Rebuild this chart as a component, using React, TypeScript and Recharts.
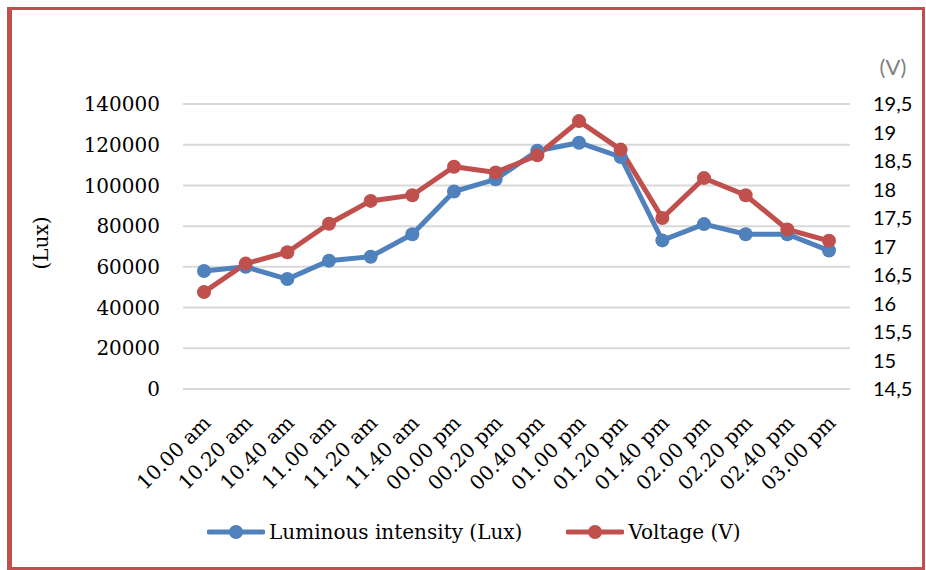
import React from 'react'
import { CartesianGrid, Line, LineChart, XAxis, YAxis } from 'recharts'

const times = [
  '10.00 am', '10.20 am', '10.40 am', '11.00 am', '11.20 am', '11.40 am',
  '00.00 pm', '00.20 pm', '00.40 pm', '01.00 pm', '01.20 pm', '01.40 pm',
  '02.00 pm', '02.20 pm', '02.40 pm', '03.00 pm',
]
const luxValues = [
  58000, 60000, 54000, 63000, 65000, 76000, 97000, 103000,
  117000, 121000, 114000, 73000, 81000, 76000, 76000, 68000,
]
const voltValues = [
  16.2, 16.7, 16.9, 17.4, 17.8, 17.9, 18.4, 18.3,
  18.6, 19.2, 18.7, 17.5, 18.2, 17.9, 17.3, 17.1,
]
const luxTicks = [0, 20000, 40000, 60000, 80000, 100000, 120000, 140000]
const voltTicks = [14.5, 15, 15.5, 16, 16.5, 17, 17.5, 18, 18.5, 19, 19.5]

const BLUE = '#4f81bd'
const RED = '#c0504d'
const SERIF = '"DejaVu Serif", serif'
const SANS = 'Lato, sans-serif'

const data = times.map((t, i) => ({ time: t, lux: luxValues[i], volt: voltValues[i] }))

const TimeTick = (props: any) => {
  const { x, y, payload } = props
  return (
    <g transform={`translate(${x + 8},${y + 27})`}>
      <text
        x={0}
        y={0}
        textAnchor="end"
        transform="rotate(-45)"
        fill="#000"
        fontSize={20}
        fontFamily={SERIF}
      >
        {payload.value}
      </text>
    </g>
  )
}

const LegendItem = ({ color, label }: { color: string; label: string }) => (
  <div style={{ display: 'flex', alignItems: 'center' }}>
    <svg width={58} height={16} style={{ marginRight: 4 }}>
      <line x1={2} y1={8} x2={56} y2={8} stroke={color} strokeWidth={5} strokeLinecap="round" />
      <circle cx={29} cy={8} r={7} fill={color} />
    </svg>
    <span style={{ fontFamily: SERIF, fontSize: 20, color: '#000' }}>{label}</span>
  </div>
)

export default function App() {
  return (
    <div style={{ position: 'absolute', left: 0, top: 0, width: 926, height: 570, background: '#fff' }}>
      <div
        style={{
          position: 'absolute',
          left: 7,
          top: 7,
          width: 926 - 7 - 5 - 3 - 1,
          height: 570 - 7 - 3 - 3,
          borderLeft: `5px solid ${RED}`,
          borderTop: `3px solid ${RED}`,
          borderRight: `3px solid ${RED}`,
          borderBottom: `3px solid ${RED}`,
        }}
      />
      <LineChart
        width={926}
        height={570}
        data={data}
        margin={{ top: 104, right: 0, left: 0, bottom: 81 }}
        style={{ position: 'absolute', left: 0, top: 0 }}
      >
        <CartesianGrid yAxisId="left" vertical={false} stroke="#d9d9d9" strokeWidth={2} />
        <XAxis
          dataKey="time"
          axisLine={false}
          tickLine={false}
          interval={0}
          height={100}
          padding={{ left: 21, right: 21 }}
          tick={<TimeTick />}
        />
        <YAxis
          yAxisId="left"
          domain={[0, 140000]}
          ticks={luxTicks}
          width={183}
          axisLine={false}
          tickLine={false}
          tickSize={6}
          tickMargin={17}
          tick={{ fill: '#000', fontSize: 20, fontFamily: SERIF }}
        />
        <YAxis
          yAxisId="right"
          orientation="right"
          domain={[14.5, 19.5]}
          ticks={voltTicks}
          width={76}
          axisLine={false}
          tickLine={false}
          tickSize={6}
          tickMargin={17}
          tickFormatter={(v: number) => String(v).replace('.', ',')}
          tick={{ fill: '#000', fontSize: 20, fontFamily: SANS, textAnchor: 'start' }}
        />
        <Line
          yAxisId="left"
          dataKey="lux"
          stroke={BLUE}
          strokeWidth={5}
          dot={{ r: 7, fill: BLUE, stroke: 'none' }}
          activeDot={false}
          isAnimationActive={false}
        />
        <Line
          yAxisId="right"
          dataKey="volt"
          stroke={RED}
          strokeWidth={5}
          dot={{ r: 7, fill: RED, stroke: 'none' }}
          activeDot={false}
          isAnimationActive={false}
        />
      </LineChart>
      <div
        style={{
          position: 'absolute',
          left: 41,
          top: 243,
          transform: 'translate(-50%, -50%) rotate(-90deg)',
          fontFamily: SERIF,
          fontSize: 20,
          color: '#000',
          whiteSpace: 'nowrap',
        }}
      >
        (Lux)
      </div>
      <div
        style={{
          position: 'absolute',
          left: 893,
          top: 66,
          transform: 'translate(-50%, -50%)',
          fontFamily: SANS,
          fontSize: 22,
          color: '#7f7f7f',
        }}
      >
        (V)
      </div>
      <div
        style={{
          position: 'absolute',
          left: 207,
          top: 520,
          display: 'flex',
          alignItems: 'center',
          gap: 44,
        }}
      >
        <LegendItem color={BLUE} label="Luminous intensity (Lux)" />
        <LegendItem color={RED} label="Voltage (V)" />
      </div>
    </div>
  )
}
